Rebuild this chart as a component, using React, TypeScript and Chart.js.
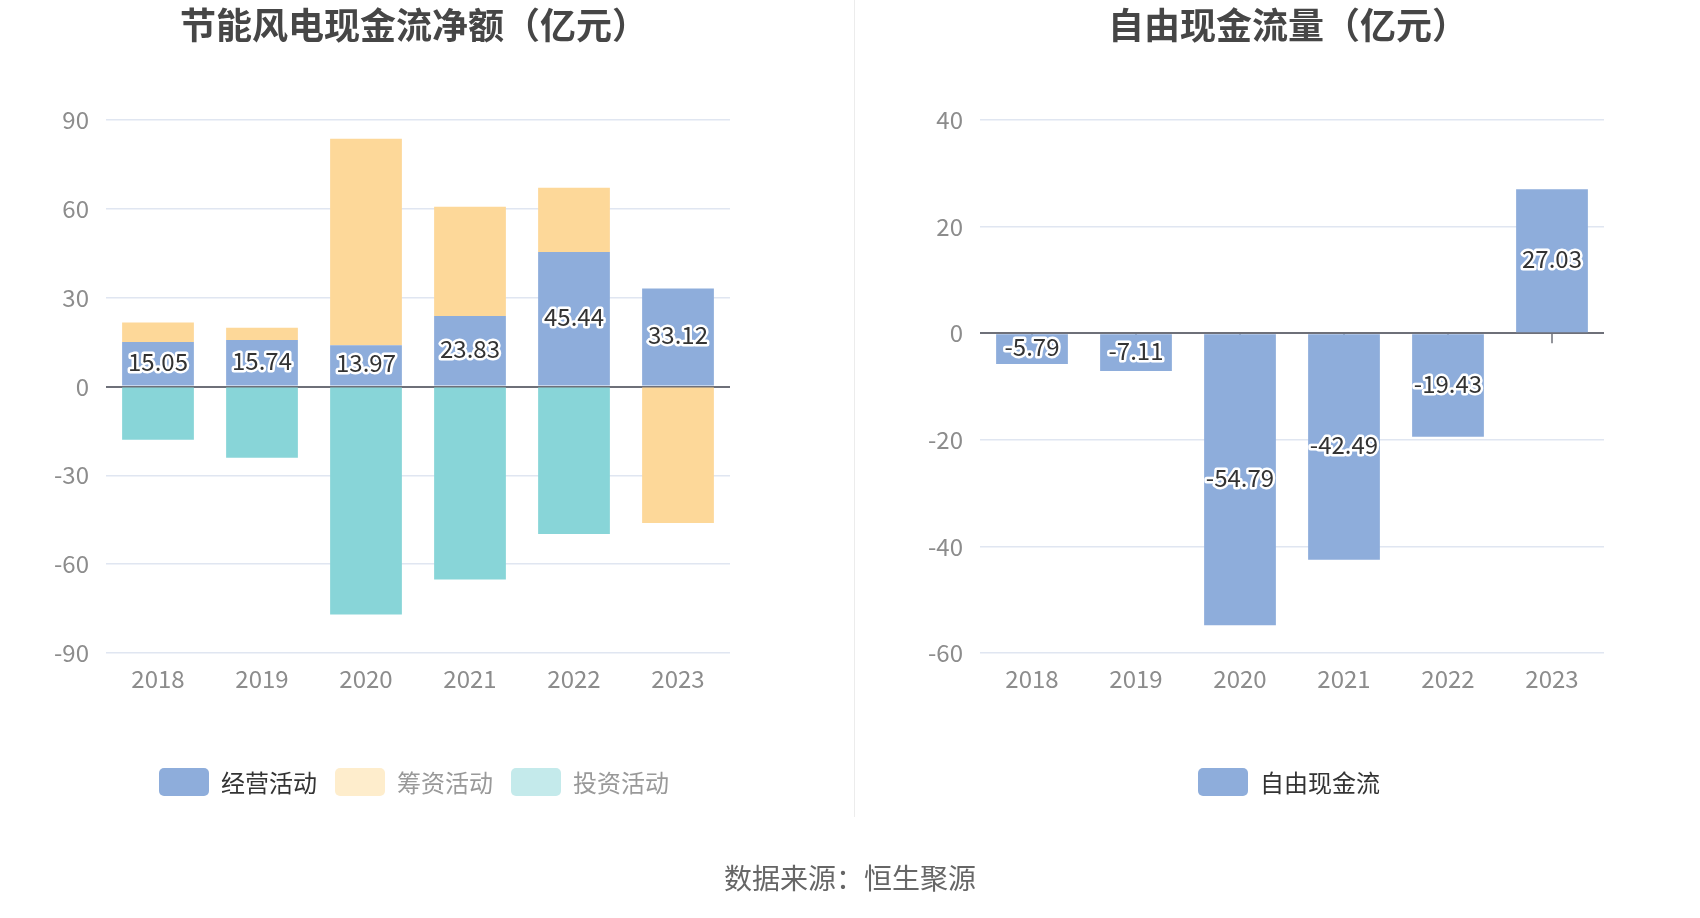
import { useEffect, useRef } from 'react'
import { Chart, registerables } from 'chart.js'

Chart.register(...registerables)

const years = ['2018', '2019', '2020', '2021', '2022', '2023']

// 节能风电现金流净额（亿元）
const operating = [15.05, 15.74, 13.97, 23.83, 45.44, 33.12]
const financing = [6.6, 4.1, 69.7, 36.9, 21.7, -46.1]
const investing = [-18.0, -24.1, -77.0, -65.2, -49.8, 0]
const leftTicks = [-90, -60, -30, 0, 30, 60, 90]

// 自由现金流量（亿元）
const freeCash = [-5.79, -7.11, -54.79, -42.49, -19.43, 27.03]
const rightTicks = [-60, -40, -20, 0, 20, 40]

const BLUE = '#8eaddb'
const YELLOW = '#fdd899'
const TEAL = '#88d5d8'
const FONT = '"Noto Sans CJK SC", "Noto Sans", sans-serif'

// labels in the middle of the first dataset's bars
const valueLabels = {
  id: 'valueLabels',
  afterDatasetsDraw(chart: any) {
    const { ctx } = chart
    const meta = chart.getDatasetMeta(0)
    const values = chart.data.datasets[0].data as number[]
    ctx.save()
    ctx.font = `24px ${FONT}`
    ctx.textAlign = 'center'
    ctx.textBaseline = 'middle'
    ctx.lineJoin = 'round'
    meta.data.forEach((bar: any, i: number) => {
      const { x, y, base } = bar.getProps(['x', 'y', 'base'], true)
      const cy = (y + base) / 2 - 2
      const text = values[i].toFixed(2)
      ctx.lineWidth = 5
      ctx.strokeStyle = '#fff'
      ctx.strokeText(text, x, cy)
      ctx.fillStyle = '#333'
      ctx.fillText(text, x, cy)
    })
    ctx.restore()
  },
}

// small category ticks hanging under the zero line (mostly hidden by bars)
const zeroTicks = {
  id: 'zeroTicks',
  beforeDatasetsDraw(chart: any) {
    const { ctx, scales } = chart
    const y0 = scales.y.getPixelForValue(0)
    ctx.save()
    ctx.strokeStyle = '#6e7079'
    ctx.lineWidth = 1.5
    chart.data.labels.forEach((_: string, i: number) => {
      const px = Math.round(scales.x.getPixelForValue(i))
      ctx.beginPath()
      ctx.moveTo(px, y0)
      ctx.lineTo(px, y0 + 10)
      ctx.stroke()
    })
    ctx.restore()
  },
}

function makeOptions(ticks: number[], axisWidth: number, rightPad: number): any {
  return {
    responsive: true,
    maintainAspectRatio: false,
    animation: false,
    layout: { padding: { left: 0, right: rightPad, top: 120, bottom: 0 } },
    plugins: { legend: { display: false }, title: { display: false }, tooltip: { enabled: false } },
    scales: {
      x: {
        stacked: true,
        grid: { display: false },
        border: { display: false },
        ticks: { color: '#8c8c8c', font: { family: FONT, size: 24 }, padding: 3 },
        afterFit: (s: any) => { s.height = 67 },
      },
      y: {
        stacked: true,
        min: ticks[0],
        max: ticks[ticks.length - 1],
        border: { display: false },
        grid: {
          drawTicks: false,
          color: (c: any) => (c.tick && c.tick.value === 0 ? '#6e7079' : '#e0e6f1'),
          lineWidth: (c: any) => (c.tick && c.tick.value === 0 ? 2 : 1.5),
        },
        ticks: {
          stepSize: ticks[1] - ticks[0],
          color: '#8c8c8c',
          font: { family: FONT, size: 24 },
          padding: 17,
        },
        afterFit: (s: any) => { s.width = axisWidth },
      },
    },
  }
}

function BarPanel({ datasets, ticks, axisWidth, rightPad }: any) {
  const ref = useRef<HTMLCanvasElement>(null)
  useEffect(() => {
    if (!ref.current) return
    const chart = new Chart(ref.current, {
      type: 'bar',
      data: { labels: years, datasets },
      options: makeOptions(ticks, axisWidth, rightPad),
      plugins: [zeroTicks, valueLabels],
    })
    return () => { chart.destroy() }
  }, [])
  return <canvas ref={ref} />
}

function Legend({ items, left }: { items: { label: string; color: string; text: string }[]; left: number }) {
  return (
    <div style={{ position: 'absolute', left, top: 768, display: 'flex', alignItems: 'center' }}>
      {items.map((it, i) => (
        <div key={i} style={{ display: 'flex', alignItems: 'center', marginRight: 18 }}>
          <span style={{ width: 50, height: 28, borderRadius: 5, background: it.color, display: 'inline-block', marginRight: 12 }} />
          <span style={{ fontSize: 24, lineHeight: '28px', color: it.text, whiteSpace: 'nowrap' }}>{it.label}</span>
        </div>
      ))}
    </div>
  )
}

const titleStyle: any = {
  position: 'absolute', top: 5, width: 600, textAlign: 'center',
  fontSize: 36, lineHeight: '36px', fontWeight: 'bold', color: '#464646',
}

export default function App() {
  const leftSets = [
    { label: '经营活动', data: operating, backgroundColor: BLUE, barPercentage: 0.69, categoryPercentage: 1 },
    { label: '筹资活动', data: financing, backgroundColor: YELLOW, barPercentage: 0.69, categoryPercentage: 1 },
    { label: '投资活动', data: investing, backgroundColor: TEAL, barPercentage: 0.69, categoryPercentage: 1 },
  ]
  const rightSets = [
    { label: '自由现金流', data: freeCash, backgroundColor: BLUE, barPercentage: 0.69, categoryPercentage: 1 },
  ]

  return (
    <div style={{ position: 'fixed', left: 0, top: 0, width: 1700, height: 918, background: '#fff', fontFamily: FONT }}>
      <div style={{ ...titleStyle, left: 114 }}>节能风电现金流净额（亿元）</div>
      <div style={{ ...titleStyle, left: 988 }}>自由现金流量（亿元）</div>

      <div style={{ position: 'absolute', left: 0, top: 0, width: 850, height: 720 }}>
        <BarPanel datasets={leftSets} ticks={leftTicks} axisWidth={106} rightPad={120} />
      </div>
      <div style={{ position: 'absolute', left: 850, top: 0, width: 850, height: 720 }}>
        <BarPanel datasets={rightSets} ticks={rightTicks} axisWidth={130} rightPad={96} />
      </div>

      <div style={{ position: 'absolute', left: 854, top: 0, width: 1, height: 817, background: '#ececec' }} />

      <Legend
        left={159}
        items={[
          { label: '经营活动', color: BLUE, text: '#333' },
          { label: '筹资活动', color: '#feedcc', text: '#999' },
          { label: '投资活动', color: '#c4eaeb', text: '#999' },
        ]}
      />
      <Legend left={1198} items={[{ label: '自由现金流', color: BLUE, text: '#333' }]} />

      <div style={{ position: 'absolute', left: 0, width: 1700, top: 861, textAlign: 'center', fontSize: 28, lineHeight: '32px', color: '#666' }}>
        数据来源：恒生聚源
      </div>
    </div>
  )
}
